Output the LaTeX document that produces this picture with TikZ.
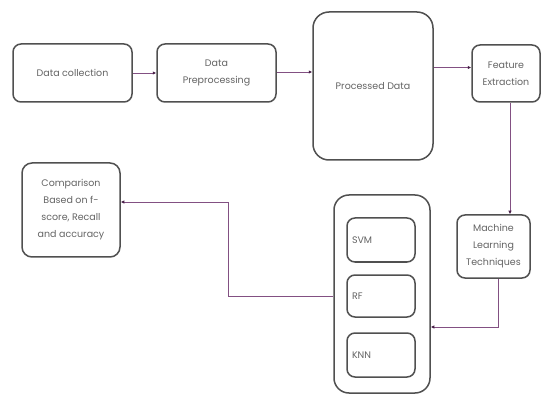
\documentclass[tikz,border=0pt]{standalone}
\usepackage{fontspec}
\setmainfont{Poppins}
\usetikzlibrary{arrows.meta,calc}
\definecolor{boxline}{RGB}{80,80,80}
\definecolor{txt}{RGB}{100,100,100}
\definecolor{conn}{RGB}{130,80,130}
\definecolor{tip}{RGB}{70,30,70}
\tikzset{
  box/.style={draw=boxline, line width=1.5pt, rounded corners=8pt, fill=white,
    align=center, text=txt, font=\fontsize{9.5}{17}\selectfont, inner sep=2pt},
  bigbox/.style={box, rounded corners=16pt},
  link/.style={draw=conn, line width=0.8pt, -{Latex[length=3.5pt,width=3.5pt,color=tip]}},
  plain/.style={draw=conn, line width=0.8pt}
}
\begin{document}
\begin{tikzpicture}[x=1pt,y=-1pt]
\useasboundingbox[fill=white] (0,0) rectangle (542,396);
\node[box, minimum width=119pt, minimum height=58pt] (dc) at (72.5,73) {Data collection};
\node[box, minimum width=119pt, minimum height=58pt] (dp) at (216.5,73) {Data\\Preprocessing};
\node[bigbox, minimum width=120pt, minimum height=148pt] (pd) at (373,86) {Processed Data};
\node[box, minimum width=68pt, minimum height=57pt] (fe) at (506,73.5) {Feature\\Extraction};
\node[box, minimum width=73pt, minimum height=63pt] (ml) at (493.5,246.5) {Machine\\Learning\\Techniques};
\node[bigbox, rounded corners=15pt, minimum width=96pt, minimum height=198pt] (grp) at (382,294) {};
\node[box, minimum width=68pt, minimum height=44pt, align=left, text width=58pt] (svm) at (381,240) {SVM};
\node[box, minimum width=68pt, minimum height=42pt, align=left, text width=58pt] (rf) at (381,296) {RF};
\node[box, minimum width=68pt, minimum height=44pt, align=left, text width=58pt] (knn) at (381,355) {KNN};
\node[box, minimum width=98pt, minimum height=94pt, rounded corners=10pt] (cmp) at (71,210) {Comparison\\Based on f-\\score, Recall\\and accuracy};

\draw[link] (dc.east) -- (dp.west);
\draw[link] ([yshift=1pt]dp.east) -- ([yshift=1pt]dp.east -| pd.west);
\draw[link] ([yshift=6pt]fe.west -| pd.east) -- ([yshift=6pt]fe.west);
\draw[link] ([xshift=4pt]fe.south) -- ([xshift=4pt]fe.south |- ml.north);
\coordinate (c1) at ([xshift=4.5pt]ml.south |- 0,327);
\draw[link] ([xshift=4.5pt]ml.south) -- (c1) -- (c1 -| grp.east);
\coordinate (c2) at (228,296);
\coordinate (c3) at (228,202);
\draw[link] (c2 -| grp.west) -- (c2) -- (c3) -- (c3 -| cmp.east);
\end{tikzpicture}
\end{document}
